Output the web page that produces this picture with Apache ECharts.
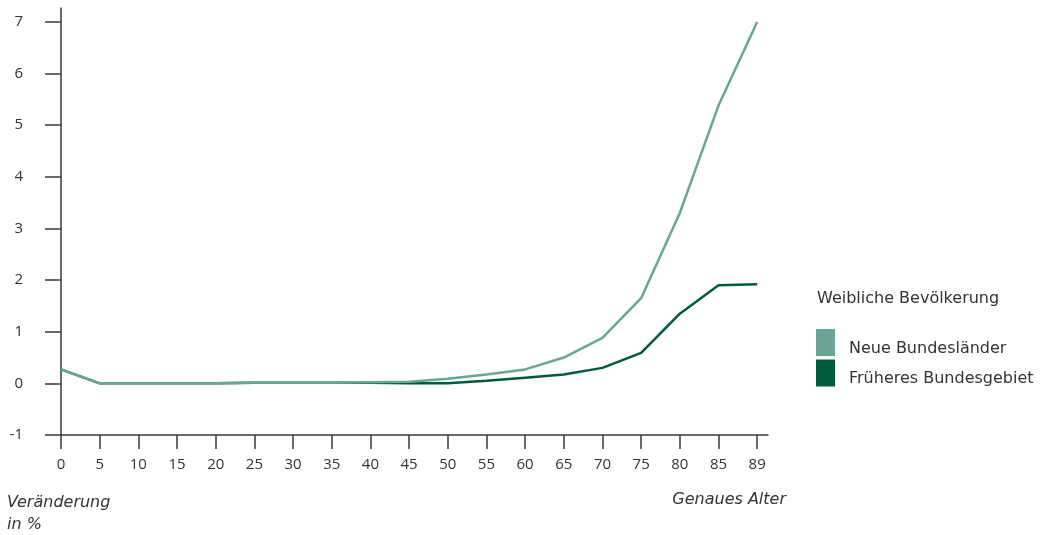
<!DOCTYPE html>
<html><head><meta charset="utf-8">
<script src="https://cdn.jsdelivr.net/npm/echarts@6/dist/echarts.min.js"></script>
<style>html,body{margin:0;padding:0;background:#fff}#c{width:1052px;height:535px}</style>
</head><body><div id="c"></div>
<script>
const categories = ['0','5','10','15','20','25','30','35','40','45','50','55','60','65','70','75','80','85','89'];
const neueBundeslaender = [0.27,0,0,0,0,0.01,0.01,0.01,0.02,0.03,0.09,0.17,0.27,0.5,0.88,1.65,3.3,5.38,7.0];
const fruheresBundesgebiet = [0.27,0,0,0,0,0.01,0.01,0.01,0.01,0,0,0.05,0.11,0.17,0.3,0.59,1.35,1.9,1.92];
const yTicks = [-1,0,1,2,3,4,5,6,7];
const xTickIdx = categories.map((c,i)=>i);
const FONT = '"Open Sans", sans-serif';
const FONT2 = '"DejaVu Sans", sans-serif';
const axisColor = '#3a3a3a';
const chart = echarts.init(document.getElementById('c'));
chart.setOption({
  animation:false,
  grid:{left:61,right:284,top:8,bottom:100},
  xAxis:{type:'value',min:0,max:18.28,
    axisLine:{show:true,onZero:false,lineStyle:{color:axisColor,width:1.5}},
    axisTick:{show:true,length:14,customValues:xTickIdx,lineStyle:{color:axisColor,width:1.5}},
    axisLabel:{customValues:xTickIdx,formatter:v=>categories[v],margin:22,color:'#333',fontSize:15,fontFamily:FONT},
    splitLine:{show:false}},
  yAxis:{type:'value',min:-1,max:7.27,
    axisLine:{show:true,onZero:false,lineStyle:{color:axisColor,width:1.5}},
    axisTick:{show:true,length:16,customValues:yTicks,lineStyle:{color:axisColor,width:1.5}},
    axisLabel:{customValues:yTicks,margin:38,color:'#333',fontSize:15,fontFamily:FONT},
    splitLine:{show:false}},
  legend:{orient:'vertical',left:816,top:329,padding:0,itemWidth:19,itemHeight:27,itemGap:3,icon:'rect',
    formatter:n=>'{a|'+n+'}',
    textStyle:{color:'#333',fontSize:16,fontFamily:FONT2,padding:[0,0,0,9],
      rich:{a:{color:'#333',fontSize:16,fontFamily:FONT2,padding:[12,0,0,0]}}},
    data:['Neue Bundesländer','Früheres Bundesgebiet']},
  graphic:[
    {type:'text',left:817,top:291,style:{text:'Weibliche Bevölkerung',fill:'#333',font:'16px '+FONT2}},
    {type:'text',left:7,top:492,style:{text:'Veränderung\nin %',fill:'#333',font:'italic 16px '+FONT2,lineHeight:22}},
    {type:'text',right:1052-786,top:492,style:{text:'Genaues Alter',fill:'#333',font:'italic 16px '+FONT2,textAlign:'right'}}
  ],
  series:[
    {name:'Neue Bundesländer',type:'line',z:3,symbol:'none',color:'#6aa595',
      lineStyle:{width:2.5,color:'#6aa595'},data:neueBundeslaender.map((v,i)=>[i,v])},
    {name:'Früheres Bundesgebiet',type:'line',z:2,symbol:'none',color:'#005a3d',
      lineStyle:{width:2.5,color:'#005a3d'},data:fruheresBundesgebiet.map((v,i)=>[i,v])}
  ]
});
</script></body></html>
